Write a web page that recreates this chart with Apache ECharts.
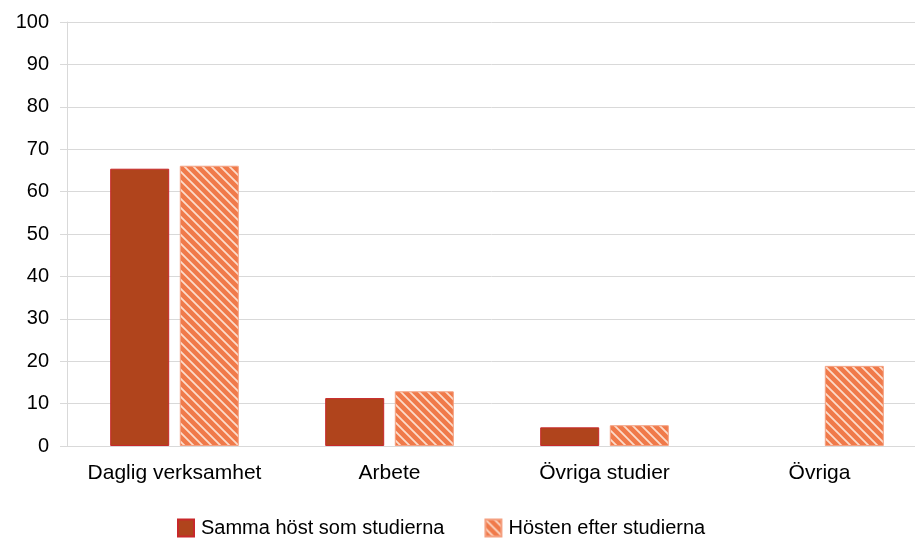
<!DOCTYPE html>
<html>
<head>
<meta charset="utf-8">
<script src="https://cdn.jsdelivr.net/npm/echarts@6/dist/echarts.min.js"></script>
<style>
  html, body { margin: 0; padding: 0; background: #fff; }
  #chart { width: 915px; height: 539px; }
</style>
</head>
<body>
<div id="chart"></div>
<script>
var categories = ["Daglig verksamhet", "Arbete", "Övriga studier", "Övriga"];
var seriesNames = ["Samma höst som studierna", "Hösten efter studierna"];
var sammaHost = [65.4, 11.3, 4.4, 0];
var hostenEfter = [66.1, 12.9, 4.9, 18.9];

// randigt mönster för andra serien
function makeHatch() {
  var s = 9;
  var c = document.createElement("canvas");
  c.width = s; c.height = s;
  var ctx = c.getContext("2d");
  ctx.fillStyle = "#F07A4A";
  ctx.fillRect(0, 0, s, s);
  ctx.strokeStyle = "#FCDCCB";
  ctx.lineWidth = 1.8;
  ctx.beginPath();
  ctx.moveTo(-2, -2); ctx.lineTo(s + 2, s + 2);
  ctx.moveTo(-2, s - 2); ctx.lineTo(2, s + 2);
  ctx.moveTo(s - 2, -2); ctx.lineTo(s + 2, 2);
  ctx.stroke();
  return c;
}
var hatch = { image: makeHatch(), repeat: "repeat" };

// nollstaplar ska inte synas
var sammaData = sammaHost.map(function (v) {
  return v === 0 ? { value: v, itemStyle: { borderWidth: 0 } } : v;
});

var chart = echarts.init(document.getElementById("chart"));
var option = {
  animation: false,
  textStyle: { fontFamily: "Liberation Sans, Arial, sans-serif" },
  // plotytan fortsätter förbi högerkanten som i originalet
  grid: {
    left: 67, width: 860, top: 22, height: 424,
    containLabel: false, outerBoundsMode: "none"
  },
  legend: {
    top: 518,
    left: 177,
    padding: 0,
    itemWidth: 16,
    itemHeight: 17,
    itemGap: 40,
    textStyle: { fontSize: 20, color: "#000", padding: [0, 0, 0, 2] },
    data: [
      { name: seriesNames[0], icon: "rect" },
      { name: seriesNames[1], icon: "rect" }
    ]
  },
  xAxis: {
    type: "category",
    data: categories,
    axisTick: { show: false },
    axisLine: { lineStyle: { color: "#D9D9D9", width: 1 } },
    axisLabel: { color: "#000", fontSize: 21, margin: 17, interval: 0 }
  },
  yAxis: {
    type: "value",
    min: 0,
    max: 100,
    interval: 10,
    axisLine: { show: true, lineStyle: { color: "#D9D9D9" } },
    axisTick: { show: true, length: 7, lineStyle: { color: "#D9D9D9" } },
    splitLine: { lineStyle: { color: "#D9D9D9" } },
    axisLabel: { color: "#000", fontSize: 20, margin: 18 }
  },
  series: [
    {
      name: seriesNames[0],
      type: "bar",
      data: sammaData,
      barWidth: 59,
      barGap: "18%",
      itemStyle: { color: "#B0441C", borderColor: "#C8282A", borderWidth: 1 }
    },
    {
      name: seriesNames[1],
      type: "bar",
      data: hostenEfter,
      barWidth: 59,
      itemStyle: { color: hatch, borderColor: "#F4A080", borderWidth: 1 }
    }
  ]
};
chart.setOption(option);
window.addEventListener("resize", function () { chart.resize(); });
</script>
</body>
</html>
